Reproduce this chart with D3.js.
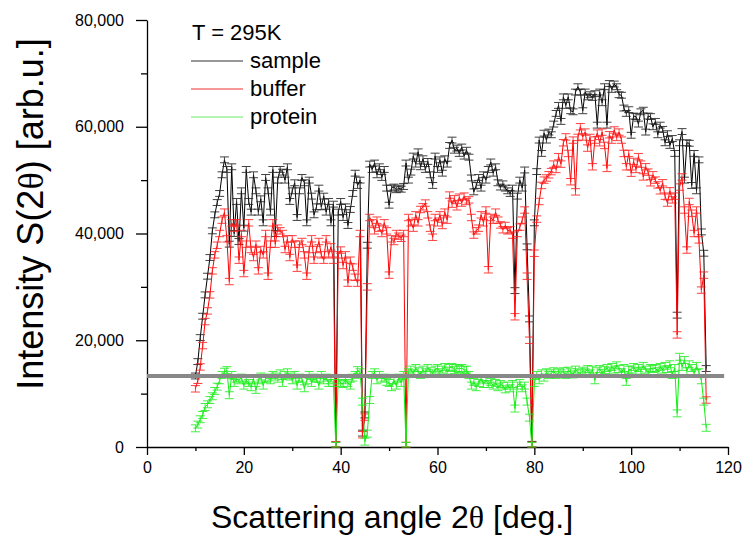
<!DOCTYPE html>
<html><head><meta charset="utf-8">
<script src="https://cdn.jsdelivr.net/npm/d3@7"></script>
<style>
body{margin:0;background:#fff;}
svg{display:block;font-family:Arial,"Liberation Sans",sans-serif;}
</style>
</head><body>
<svg id="chart" width="743" height="536"></svg>
<script>
// Scattering angle 2θ [deg.]
const angles = [
10,10.5,11,11.5,12,12.5,13,13.5,14,14.5,
15,15.5,16,16.5,17,17.5,18,18.5,19,19.5,
20,20.5,21,21.5,22,22.5,23,23.5,24,24.5,
25,25.5,26,26.5,27,27.5,28,28.5,29,29.5,
30,30.5,31,31.5,32,32.5,33,33.5,34,34.5,
35,35.5,36,36.5,37,37.5,38,38.5,39,39.5,
40,40.5,41,41.5,42,42.5,43,43.5,44,44.5,
45,45.5,46,46.5,47,47.5,48,48.5,49,49.5,
50,50.5,51,51.5,52,52.5,53,53.5,54,54.5,
55,55.5,56,56.5,57,57.5,58,58.5,59,59.5,
60,60.5,61,61.5,62,62.5,63,63.5,64,64.5,
65,65.5,66,66.5,67,67.5,68,68.5,69,69.5,
70,70.5,71,71.5,72,72.5,73,73.5,74,74.5,
75,75.5,76,76.5,77,77.5,78,78.5,79,79.5,
80,80.5,81,81.5,82,82.5,83,83.5,84,84.5,
85,85.5,86,86.5,87,87.5,88,88.5,89,89.5,
90,90.5,91,91.5,92,92.5,93,93.5,94,94.5,
95,95.5,96,96.5,97,97.5,98,98.5,99,99.5,
100,100.5,101,101.5,102,102.5,103,103.5,104,104.5,
105,105.5,106,106.5,107,107.5,108,108.5,109,109.5,
110,110.5,111,111.5,112,112.5,113,113.5,114,114.5,
115,115.5];

// Intensity S(2θ) [arb.u.]
const sample = [
13300,16000,20500,24500,28500,32000,35500,40500,43500,45800,
47500,51000,53800,52000,38000,52500,40000,46000,38500,48000,
41000,52000,46000,44000,51000,48000,44000,46500,42000,50500,
48000,44000,52000,40000,50000,52000,51500,50000,52500,46000,
48000,49500,43000,48000,50500,49500,42000,50000,47000,43500,
45000,48500,45000,47000,44000,46000,42000,45500,400,44000,
46000,43000,45000,41500,44500,47500,51300,49000,50000,2600,
6000,37800,53000,52000,53200,51000,52500,50500,52000,48500,
45300,48500,48700,48200,48500,48300,48800,53200,50000,51500,
54500,53000,55300,52500,54000,52000,53500,51000,49000,54500,
52000,53800,51300,54000,53000,56500,57500,55600,56000,55000,
56200,54500,55600,54300,50400,47800,49000,50500,48500,51000,
50000,52000,53400,51300,52500,49500,48700,49300,48500,48000,
47500,48500,29300,47000,50000,48500,51900,37500,24000,500,
42000,51600,57500,55000,58800,57500,59000,58500,60500,62500,
64000,61000,65600,64000,65600,63000,62800,66500,67500,66500,
63000,66500,65600,66000,65500,66200,60300,66500,64500,67500,
60300,68100,67000,68000,67500,66000,65900,63500,62500,63200,
58400,62000,61900,60500,62800,63100,59000,62000,61900,60000,
61000,58500,60300,59500,57000,58700,56500,57800,55000,24700,
57000,59100,50000,57000,56900,49000,55000,48000,53800,40300,
36300,14700];

const buffer = [
10900,12500,15000,19000,23500,25500,28500,33000,36000,37800,
40000,42500,44000,39000,31000,42000,41000,42000,35000,40000,
32500,38000,42000,37000,35500,38000,33000,37000,36000,40000,
32000,38000,42000,38000,41000,40500,40000,37000,39000,35500,
39000,38000,33500,38000,38500,36000,32000,37000,39000,35000,
37000,38500,36000,35000,39000,36000,37500,35000,400,36000,
36900,34000,36000,30700,35000,33700,31800,30700,40000,2300,
5600,30000,43000,42000,40500,42500,41000,40000,42000,40500,
32200,39000,38500,40000,39500,39100,40000,300,43000,42000,
41000,43500,42000,44500,45000,45700,43500,41000,39300,43000,
42000,43500,41500,44000,42500,47200,45500,46500,45000,46800,
45700,47000,46000,46300,43000,39700,40500,41000,43500,42000,
44400,33200,43000,42500,44000,42500,41600,40700,41500,40500,
40700,39700,24400,40000,41200,42500,44400,32000,20000,300,
36300,42700,46000,49000,50000,50400,51000,51600,53000,52000,
54400,53000,57000,58100,55000,49700,57500,47800,58000,60000,
58100,59000,56000,58000,52500,57500,58800,57000,59000,56500,
52200,58500,57500,59400,58000,59000,57500,55000,52500,55000,
51300,53500,52000,54400,53000,50600,52500,51500,49500,51000,
50000,49100,48000,49500,47000,45700,48000,46300,47000,21000,
48700,50600,44400,36900,46000,43800,40000,44400,38800,29400,
32200,8800];

const protein = [
3500,4200,5200,6000,7500,8000,8800,9500,10500,11300,
12500,13500,14100,14400,9700,13500,12000,12800,12500,13000,
11500,12500,12000,11200,12800,10700,12500,13200,11500,12800,
13000,12500,13500,13200,12800,13800,12000,13500,14000,13200,
12500,13500,11500,13000,12800,11000,12500,13500,12000,13000,
12800,11500,13500,12500,13000,12000,12500,12000,200,12500,
12000,11800,12500,12000,11500,13000,13500,14400,14000,8500,
1000,2500,8800,13500,14000,12500,13500,12800,13000,12200,
12000,11200,12500,11500,13000,12000,13500,200,14000,14500,
13800,14800,14200,13500,14500,14000,14800,14200,13800,14500,
14800,14000,14500,15000,14300,14800,15000,14400,14800,14600,
14800,14400,14500,13500,11500,12200,11200,12000,12800,11800,
12500,11800,12200,11500,12000,11200,11800,11500,10800,11500,
11000,11800,7200,11500,12000,11000,11500,8500,5500,200,
12000,13500,12500,13800,13000,14000,13500,13800,14200,13500,
14000,13800,14200,13500,14300,14000,13600,14500,14000,13800,
14300,14000,14600,13800,14500,12500,14200,14600,13900,14400,
14800,14200,15000,14500,15300,14600,14000,14800,12200,14500,
14500,15000,14200,14800,14300,15200,14500,14000,14800,14600,
14800,14200,15000,14500,15200,14600,15500,13500,14800,6300,
16900,15000,16300,14200,15500,14800,13800,15200,14000,12500,
8500,3600];

const errors = {sample: 550, buffer: 600, protein: 650};
const referenceLevel = 13300;   // horizontal grey line
const xMajorTicks = [0,20,40,60,80,100,120];
const xMinorTicks = [10,30,50,70,90,110];
const yMajorTicks = [0,20000,40000,60000,80000];
const yMinorTicks = [10000,30000,50000,70000];
const legendTitle = "T = 295K";
const seriesNames = ["sample","buffer","protein"];

const svg = d3.select("#chart");
const x = d3.scaleLinear().domain([0,120]).range([147,728]);
const y = d3.scaleLinear().domain([0,80000]).range([447,20]);

// axes
svg.append("g").attr("transform","translate(147,0)")
  .call(d3.axisLeft(y).tickValues(yMajorTicks).tickFormat(d3.format(",")).tickSize(11).tickPadding(12).tickSizeOuter(0));
svg.append("g").attr("transform","translate(147,0)")
  .call(d3.axisLeft(y).tickValues(yMinorTicks).tickFormat("").tickSize(6).tickSizeOuter(0))
  .select(".domain").remove();
svg.append("g").attr("transform","translate(0,447)")
  .call(d3.axisBottom(x).tickValues(xMajorTicks).tickSize(8).tickPadding(7).tickSizeOuter(0));
svg.append("g").attr("transform","translate(0,447)")
  .call(d3.axisBottom(x).tickValues(xMinorTicks).tickFormat("").tickSize(4).tickSizeOuter(0))
  .select(".domain").remove();
svg.selectAll(".tick text").attr("font-size",16).attr("font-family","Arial, 'Liberation Sans', sans-serif").attr("fill","#000");
svg.selectAll(".domain, .tick line").attr("stroke","#000").attr("stroke-width",1.3);

// series
function drawSeries(vals, color, errColor, err){
  const g = svg.append("g");
  const pts = angles.map((a,i)=>({a, v: vals[i]}));
  const line = d3.line().x(d=>x(d.a)).y(d=>y(d.v));
  g.append("path").datum(pts).attr("d",line).attr("fill","none")
    .attr("stroke",color).attr("stroke-width",1);
  const eb = g.selectAll("g.eb").data(pts).join("g").attr("class","eb")
    .attr("stroke",errColor).attr("stroke-width",1).attr("opacity",0.85);
  eb.append("line").attr("x1",d=>x(d.a)).attr("x2",d=>x(d.a))
    .attr("y1",d=>y(Math.max(0,d.v-err))).attr("y2",d=>y(d.v+err));
  eb.append("line").attr("x1",d=>x(d.a)-4.5).attr("x2",d=>x(d.a)+4.5)
    .attr("y1",d=>y(d.v+err)).attr("y2",d=>y(d.v+err));
  eb.append("line").attr("x1",d=>x(d.a)-4.5).attr("x2",d=>x(d.a)+4.5)
    .attr("y1",d=>y(Math.max(0,d.v-err))).attr("y2",d=>y(Math.max(0,d.v-err)));
}
drawSeries(sample, "#000", "#222", errors.sample);
drawSeries(buffer, "#ff0000", "#ff2020", errors.buffer);
drawSeries(protein, "#11ee11", "#22ee22", errors.protein);

// grey reference line
svg.append("line").attr("x1",x(0)).attr("x2",x(119.2))
  .attr("y1",y(referenceLevel)).attr("y2",y(referenceLevel))
  .attr("stroke","#888").attr("stroke-width",4);

// axis titles
svg.append("text").attr("x",392).attr("y",528).attr("text-anchor","middle")
  .attr("font-size",32).attr("fill","#000")
  .html('Scattering angle 2<tspan font-family="Liberation Serif, Times New Roman, serif">θ</tspan> [deg.]');
svg.append("text").attr("transform","translate(43,214) rotate(-90)").attr("text-anchor","middle")
  .attr("font-size",36).attr("fill","#000")
  .html('Intensity S(2<tspan font-family="Liberation Serif, Times New Roman, serif">θ</tspan>) [arb.u.]');

// legend
const lg = svg.append("g");
lg.append("text").attr("x",192).attr("y",40).attr("font-size",22).text(legendTitle);
const legColors = ["#333","#ee3333","#66ee66"];
seriesNames.forEach((n,i)=>{
  const yy = 61 + i*28;
  lg.append("line").attr("x1",191).attr("x2",243).attr("y1",yy).attr("y2",yy)
    .attr("stroke",legColors[i]).attr("stroke-width",1.2);
  lg.append("text").attr("x",250).attr("y",yy+7).attr("font-size",22).text(n);
});
</script>
</body></html>
